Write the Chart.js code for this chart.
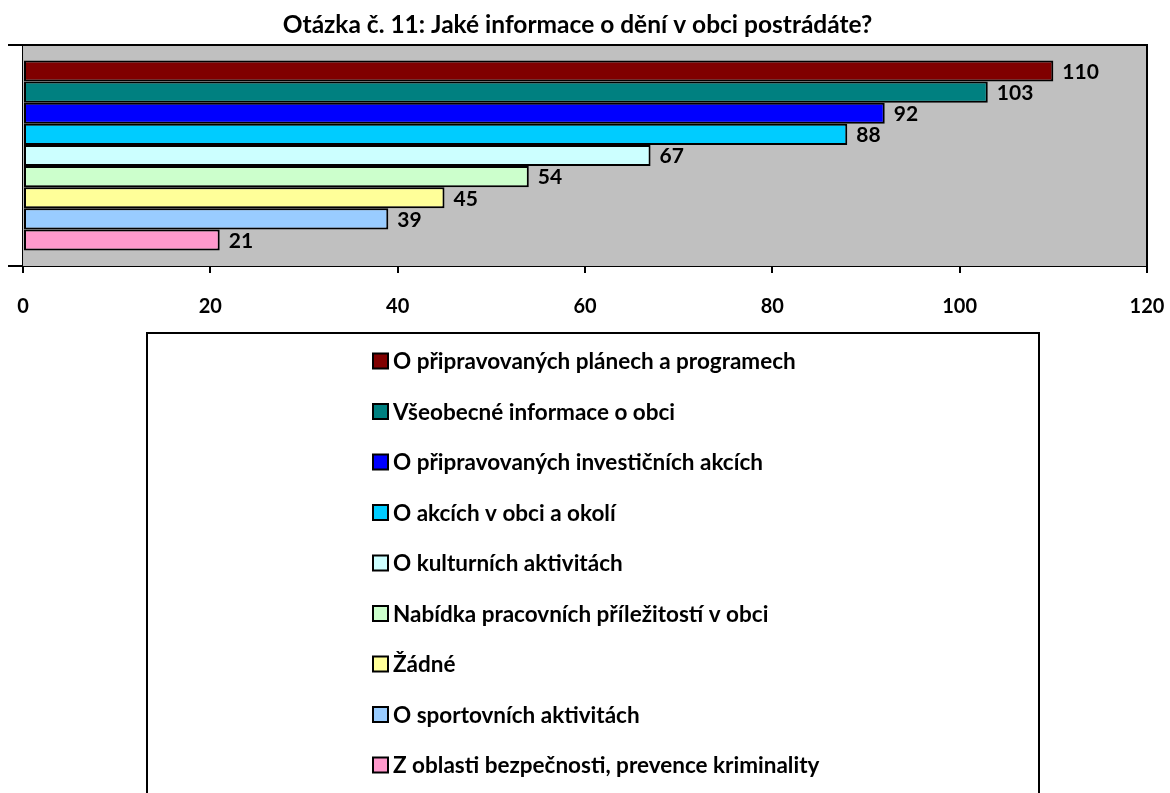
<!DOCTYPE html>
<html lang="cs">
<head>
    <meta charset="UTF-8">
    <title>Otázka č. 11</title>
    <script src="https://cdn.jsdelivr.net/npm/chart.js"></script>
    <style>
        html, body { margin: 0; padding: 0; background: #ffffff; }
        #wrap { width: 1170px; height: 793px; }
    </style>
</head>
<body>
    <div id="wrap"><canvas id="chart" width="1170" height="793"></canvas></div>

    <script>
        // data
        var titleText = 'Otázka č. 11: Jaké informace o dění v obci postrádáte?';
        var seriesNames = [
            'O připravovaných plánech a programech',
            'Všeobecné informace o obci',
            'O připravovaných investičních akcích',
            'O akcích v obci a okolí',
            'O kulturních aktivitách',
            'Nabídka pracovních příležitostí v obci',
            'Žádné',
            'O sportovních aktivitách',
            'Z oblasti bezpečnosti, prevence kriminality'
        ];
        var seriesValues = [110, 103, 92, 88, 67, 54, 45, 39, 21];
        var seriesColors = ['#800000', '#008080', '#0000ff', '#00ccff', '#ccffff', '#ccffcc', '#ffff99', '#99ccff', '#ff99cc'];
        var xTicks = [0, 20, 40, 60, 80, 100, 120];

        var FONT = 'Lato, "Open Sans", sans-serif';

        var datasets = seriesNames.map(function (name, i) {
            return {
                label: name,
                data: [seriesValues[i]],
                backgroundColor: seriesColors[i],
                borderColor: '#000000',
                borderWidth: 2,
                borderSkipped: false,
                categoryPercentage: 0.86,
                barPercentage: 1.0
            };
        });

        // gray plot area + frame
        var plotArea = {
            id: 'plotArea',
            beforeDatasetsDraw: function (chart) {
                var a = chart.chartArea, c = chart.ctx;
                c.save();
                c.fillStyle = '#c0c0c0';
                c.fillRect(a.left, a.top, a.right - a.left, a.bottom - a.top);
                c.strokeStyle = '#000000';
                c.lineWidth = 2;
                c.beginPath();
                c.moveTo(a.left, a.top);
                c.lineTo(a.right, a.top);
                c.lineTo(a.right, a.bottom);
                c.stroke();
                c.restore();
            }
        };

        // value labels right of bars
        var valueLabels = {
            id: 'valueLabels',
            afterDatasetsDraw: function (chart) {
                var c = chart.ctx;
                c.save();
                c.font = 'bold 21px ' + FONT;
                c.fillStyle = '#000000';
                c.textAlign = 'left';
                c.textBaseline = 'middle';
                chart.data.datasets.forEach(function (ds, i) {
                    var bar = chart.getDatasetMeta(i).data[0];
                    c.fillText(String(ds.data[0]), bar.x + 9, bar.y + 1);
                });
                c.restore();
            }
        };

        // legend drawn as a boxed vertical list
        var boxLegend = {
            id: 'boxLegend',
            afterDraw: function (chart) {
                var c = chart.ctx;
                var left = 147, top = 333, right = 1039;
                c.save();
                c.strokeStyle = '#000000';
                c.lineWidth = 2;
                c.strokeRect(left, top, right - left, 800 - top);
                c.font = 'bold 22.5px ' + FONT;
                c.textAlign = 'left';
                c.textBaseline = 'middle';
                chart.data.datasets.forEach(function (ds, i) {
                    var y = 361 + i * 50.5;
                    c.fillStyle = ds.backgroundColor;
                    c.fillRect(373, y - 7.5, 15, 15);
                    c.strokeStyle = '#000000';
                    c.lineWidth = 2;
                    c.strokeRect(373, y - 7.5, 15, 15);
                    c.fillStyle = '#000000';
                    c.fillText(ds.label, 393, y + 1);
                });
                c.restore();
            }
        };

        var ctx = document.getElementById('chart').getContext('2d');
        var chart = new Chart(ctx, {
            type: 'bar',
            data: {
                labels: [''],
                datasets: datasets
            },
            options: {
                indexAxis: 'y',
                responsive: false,
                animation: false,
                layout: {
                    padding: { left: 8, right: 23, top: 0, bottom: 452 }
                },
                plugins: {
                    legend: { display: false },
                    tooltip: { enabled: false },
                    title: {
                        display: true,
                        text: titleText,
                        color: '#000000',
                        font: { family: FONT, size: 24.5, weight: 'bold' },
                        padding: { top: 10, bottom: 5.6 }
                    }
                },
                scales: {
                    x: {
                        min: 0,
                        max: 120,
                        afterBuildTicks: function (scale) {
                            scale.ticks = xTicks.map(function (v) { return { value: v }; });
                        },
                        // end labels may overhang the plot, like in the original
                        afterFit: function (scale) {
                            scale.paddingLeft = 0;
                            scale.paddingRight = 0;
                        },
                        ticks: {
                            color: '#000000',
                            padding: 22,
                            maxRotation: 0,
                            font: { family: FONT, size: 20, weight: 'bold' }
                        },
                        grid: {
                            drawOnChartArea: false,
                            color: '#000000',
                            lineWidth: 2,
                            tickLength: 7
                        },
                        border: { display: true, color: '#000000', width: 2 }
                    },
                    y: {
                        ticks: { display: false },
                        grid: {
                            drawOnChartArea: false,
                            color: '#000000',
                            lineWidth: 2,
                            tickLength: 15
                        },
                        border: { display: true, color: '#000000', width: 2 },
                        afterFit: function (scale) { scale.width = 15; }
                    }
                }
            },
            plugins: [plotArea, valueLabels, boxLegend]
        });
    </script>
</body>
</html>
